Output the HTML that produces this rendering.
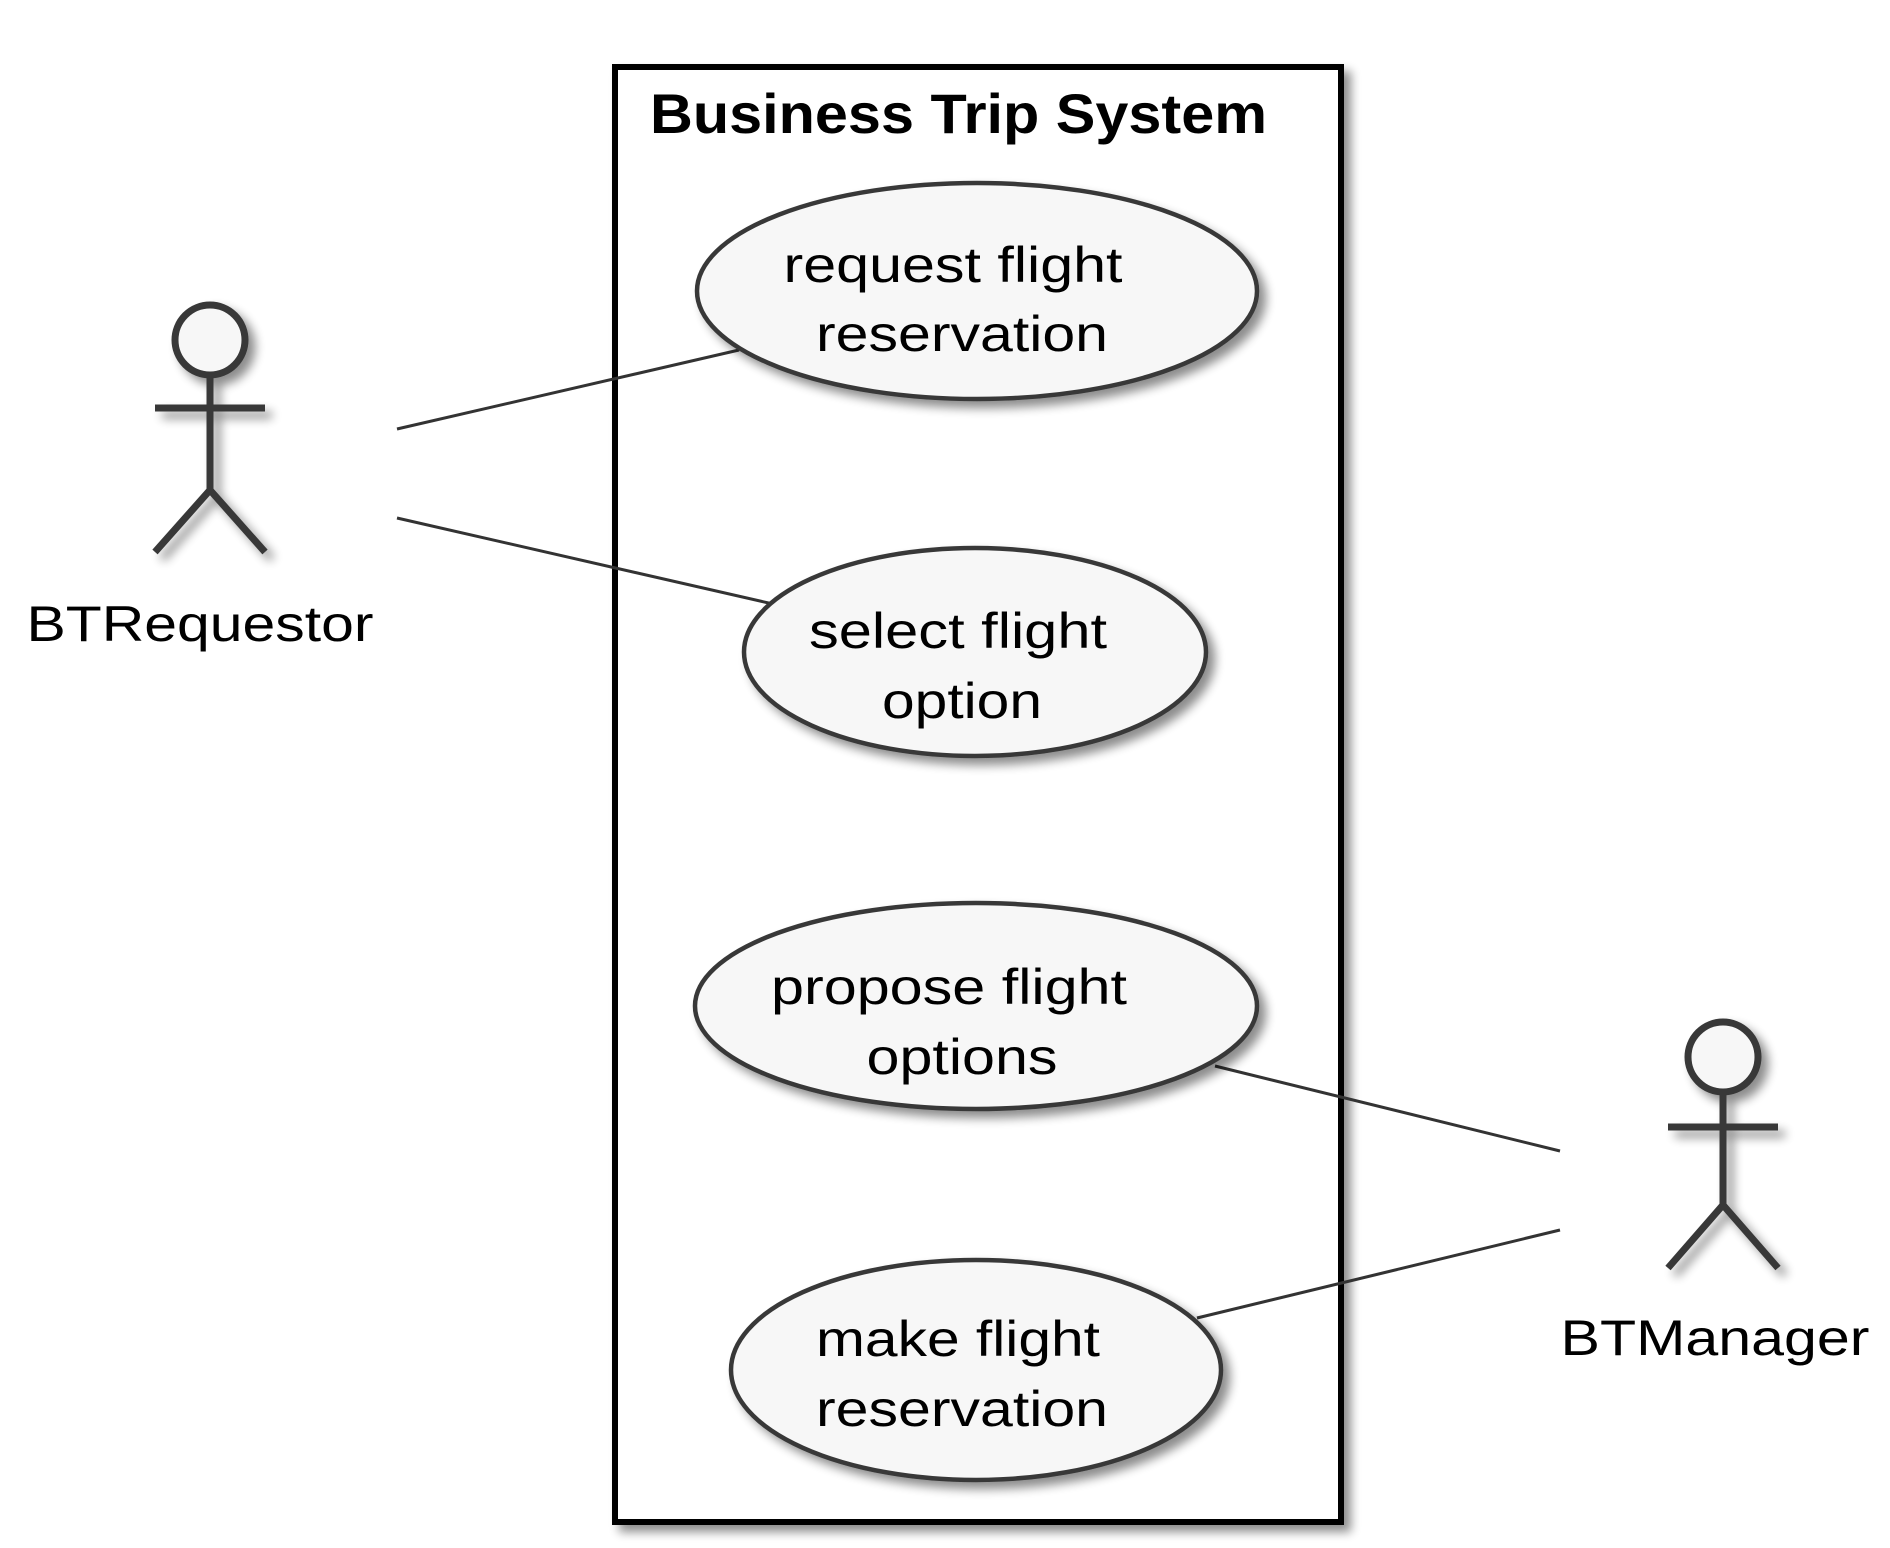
<!DOCTYPE html>
<html><head><meta charset="utf-8"><style>
html,body{margin:0;padding:0;background:#fff;}
svg{display:block;}
text{font-family:"Liberation Sans",Arial,sans-serif;fill:#000;}
</style></head><body>
<svg width="1890" height="1548" viewBox="0 0 1890 1548" xmlns="http://www.w3.org/2000/svg">
<defs>
<filter id="sh" x="-20%" y="-20%" width="150%" height="150%">
<feGaussianBlur in="SourceAlpha" stdDeviation="5"/>
<feOffset dx="7" dy="7" result="b"/>
<feComponentTransfer><feFuncA type="linear" slope="0.45"/></feComponentTransfer>
<feMerge><feMergeNode/><feMergeNode in="SourceGraphic"/></feMerge>
</filter>
</defs>
<rect x="615" y="67" width="726" height="1455" fill="#fff" stroke="#000" stroke-width="6" filter="url(#sh)"/>
<text x="650" y="133" font-size="56" font-weight="bold" textLength="617" lengthAdjust="spacingAndGlyphs">Business Trip System</text>

<g stroke="#333" stroke-width="3">
<line x1="397" y1="429" x2="739" y2="350"/>
<line x1="397" y1="518" x2="773" y2="604"/>
<line x1="1215" y1="1066" x2="1560" y2="1151"/>
<line x1="1197" y1="1318" x2="1560" y2="1230"/>
</g>

<g fill="#f7f7f7" stroke="#383838" stroke-width="4.5" filter="url(#sh)">
<ellipse cx="977" cy="291" rx="280" ry="108"/>
<ellipse cx="975" cy="652" rx="231" ry="104"/>
<ellipse cx="976" cy="1006" rx="281" ry="103"/>
<ellipse cx="976" cy="1370" rx="245" ry="110"/>
</g>
<g font-size="50" text-anchor="middle">
<text x="953" y="282" textLength="339" lengthAdjust="spacingAndGlyphs">request flight</text>
<text x="962" y="351" textLength="292" lengthAdjust="spacingAndGlyphs">reservation</text>
<text x="958" y="648" textLength="298" lengthAdjust="spacingAndGlyphs">select flight</text>
<text x="962" y="718" textLength="160" lengthAdjust="spacingAndGlyphs">option</text>
<text x="949" y="1004" textLength="356" lengthAdjust="spacingAndGlyphs">propose flight</text>
<text x="962" y="1074" textLength="191" lengthAdjust="spacingAndGlyphs">options</text>
<text x="958" y="1356" textLength="284" lengthAdjust="spacingAndGlyphs">make flight</text>
<text x="962" y="1426" textLength="292" lengthAdjust="spacingAndGlyphs">reservation</text>
</g>

<g fill="none" stroke="#383838" stroke-width="7" filter="url(#sh)">
<circle cx="210" cy="340" r="35" fill="#f7f7f7"/>
<line x1="210" y1="375" x2="210" y2="490"/>
<line x1="155" y1="408" x2="265" y2="408"/>
<polyline points="155,552 210,490 265,552"/>
<circle cx="1723" cy="1057" r="35" fill="#f7f7f7"/>
<line x1="1723" y1="1092" x2="1723" y2="1205"/>
<line x1="1668" y1="1127" x2="1778" y2="1127"/>
<polyline points="1668,1268 1723,1205 1778,1268"/>
</g>
<g font-size="50" text-anchor="middle">
<text x="200" y="641" textLength="347" lengthAdjust="spacingAndGlyphs">BTRequestor</text>
<text x="1715" y="1355" textLength="309" lengthAdjust="spacingAndGlyphs">BTManager</text>
</g>
</svg>
</body></html>
